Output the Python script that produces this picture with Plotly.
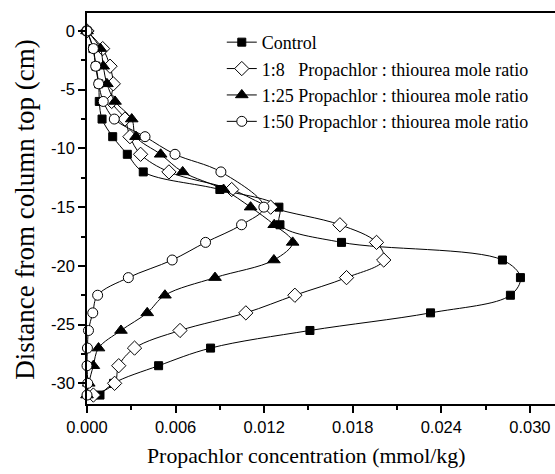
import plotly.graph_objects as go

depth = [0, -1.5, -3, -4.5, -6, -7.5, -9, -10.5, -12, -13.5, -15, -16.5,
         -18, -19.5, -21, -22.5, -24, -25.5, -27, -28.5, -30, -31]

control = [0, 0.0004, 0.0006, 0.0008, 0.00083, 0.00102, 0.00174, 0.00273,
           0.00381, 0.0090, 0.0130, 0.01307, 0.01724, 0.02814, 0.02936,
           0.02868, 0.02327, 0.0151, 0.00837, 0.00485, 0.0018, 0.00088]

ratio_8 = [0, 0.00106, 0.00156, 0.00178, 0.00167, 0.00257, 0.00291, 0.00363,
           0.00555, 0.0098, 0.01244, 0.01713, 0.01961, 0.0201, 0.01758,
           0.01408, 0.01076, 0.0063, 0.00322, 0.00215, 0.00187, 0.00043]

ratio_25 = [0, 0.0009, 0.0011, 0.00135, 0.0019, 0.00303, 0.00332, 0.00499,
            0.00648, 0.00925, 0.01108, 0.01268, 0.01393, 0.01266, 0.00867,
            0.00528, 0.00408, 0.0023, 0.00078, 0.00043, 0.00012, 0.0]

ratio_50_depth = [0, -1.5, -3, -4.5, -6, -7.5, -9, -10.5, -12, -15, -16.5,
                  -18, -19.5, -21, -22.5, -24, -25.5, -27, -28.5, -30, -31]
ratio_50 = [0, 0.00043, 0.00059, 0.00079, 0.0011, 0.00185, 0.00393, 0.00596,
            0.00907, 0.01198, 0.01047, 0.00803, 0.00577, 0.0028, 0.00072,
            0.00039, 0.0001, 0.00003, 0.0, 0.00005, 0.0]

names = ["Control",
         "1:8\u00a0\u00a0\u00a0Propachlor : thiourea mole ratio",
         "1:25 Propachlor : thiourea mole ratio",
         "1:50 Propachlor : thiourea mole ratio"]

x_ticks = [0.0, 0.006, 0.012, 0.018, 0.024, 0.030]
x_tick_labels = ["0.000", "0.006", "0.012", "0.018", "0.024", "0.030"]
y_ticks = [0, -5, -10, -15, -20, -25, -30]
y_tick_labels = ["0", "-5", "-10", "-15", "-20", "-25", "-30"]

x_title = "Propachlor concentration (mmol/kg)"
y_title = "Distance from column top (cm)"

fig = go.Figure()

series = [
    (control, depth, "square", 8, "black"),
    (ratio_8, depth, "diamond", 11, "white"),
    (ratio_25, depth, "triangle-up", 11, "black"),
    (ratio_50, ratio_50_depth, "circle", 10, "white"),
]
for (xs, ys, sym, sz, fill), name in zip(series, names):
    fig.add_trace(go.Scatter(
        x=xs, y=ys, name=name, mode="lines+markers",
        line=dict(color="black", width=1, shape="spline", smoothing=1.0),
        marker=dict(symbol=sym, size=sz, color=fill,
                    line=dict(color="black", width=1)),
        cliponaxis=False,
    ))

fig.update_layout(
    width=555, height=474,
    margin=dict(l=87, r=0, t=13, b=70, autoexpand=False),
    paper_bgcolor="white", plot_bgcolor="white",
    showlegend=True,
    legend=dict(x=0.288, y=0.972, xanchor="left", yanchor="top",
                bgcolor="rgba(0,0,0,0)", borderwidth=0,
                font=dict(family="Liberation Serif", size=18, color="black"),
                tracegroupgap=0),
    font=dict(family="Liberation Sans", color="black"),
    annotations=[
        dict(text=x_title, xref="paper", yref="paper", x=0.469, y=-0.133,
             xanchor="center", yanchor="middle", showarrow=False,
             font=dict(family="Liberation Serif", size=21.8, color="black")),
        dict(text=y_title, xref="paper", yref="paper", x=-0.1325, y=0.497,
             xanchor="center", yanchor="middle", showarrow=False,
             textangle=-90,
             font=dict(family="Liberation Serif", size=27, color="black")),
    ],
)

fig.update_xaxes(
    range=[0, 0.0317], showgrid=False, zeroline=False, automargin=False,
    showline=True, linecolor="black", linewidth=1.5, mirror=True,
    tickmode="array", tickvals=x_ticks, ticktext=x_tick_labels,
    ticks="outside", ticklen=7, tickwidth=1.5, tickcolor="black",
    tickfont=dict(family="Liberation Sans", size=16.5, color="black"),
    minor=dict(dtick=0.003, tick0=0, ticks="outside", ticklen=4,
               tickwidth=1.5, tickcolor="black"),
)
fig.update_yaxes(
    range=[-31.76, 1.53], showgrid=False, zeroline=False, automargin=False,
    showline=True, linecolor="black", linewidth=1.5, mirror=False,
    tickmode="array", tickvals=y_ticks, ticktext=y_tick_labels,
    ticks="outside", ticklen=7, tickwidth=1.5, tickcolor="black",
    tickfont=dict(family="Liberation Sans", size=16.5, color="black"),
    minor=dict(dtick=2.5, tick0=0, ticks="outside", ticklen=4,
               tickwidth=1.5, tickcolor="black"),
)

fig.write_html("out.html",
               config={"displayModeBar": False},
               post_script="document.body.style.margin='0';"
                           "document.body.style.overflow='hidden';")
